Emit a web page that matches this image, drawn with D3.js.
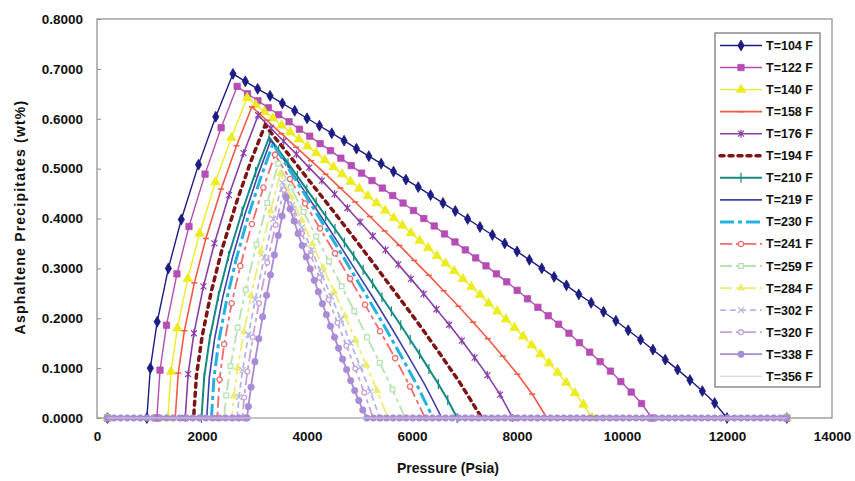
<!DOCTYPE html>
<html><head><meta charset="utf-8">
<script src="https://cdn.jsdelivr.net/npm/d3@7"></script>
<style>
body{margin:0;background:#fff}
text{font-family:"Liberation Sans",Arial,sans-serif;font-weight:bold;fill:#111}
</style>
</head><body>
<svg id="chart" width="855" height="481"></svg>
<script>
// ---------------- DATA ----------------
const pressureTicks = [0, 2000, 4000, 6000, 8000, 10000, 12000, 14000];
const wtTicks = [0, 0.1, 0.2, 0.3, 0.4, 0.5, 0.6, 0.7, 0.8];
const temps = ["T=104 F","T=122 F","T=140 F","T=158 F","T=176 F","T=194 F","T=210 F","T=219 F",
               "T=230 F","T=241 F","T=259 F","T=284 F","T=302 F","T=320 F","T=338 F","T=356 F"];

// [pressure psia, asphaltene wt%]
const s104 = [[200,0],[950,0],[1016,0.100],[1147,0.193],[1360,0.300],[1606,0.398],[1934,0.508],[2262,0.604],[2590,0.690],
  [2825,0.675],[3060,0.660],[3296,0.646],[3531,0.631],[3766,0.616],[4001,0.601],[4237,0.586],[4472,0.571],[4707,0.556],
  [4942,0.540],[5178,0.525],[5413,0.510],[5648,0.494],[5884,0.478],[6119,0.463],[6354,0.447],[6590,0.431],[6825,0.415],
  [7060,0.399],[7295,0.383],[7531,0.367],[7766,0.350],[8001,0.334],[8236,0.317],[8472,0.300],[8707,0.283],[8942,0.266],
  [9177,0.248],[9413,0.231],[9648,0.213],[9883,0.195],[10118,0.176],[10354,0.157],[10589,0.137],[10824,0.117],[11059,0.097],
  [11295,0.076],[11530,0.054],[11765,0.030],[12000,0],[13140,0]];
const s122 = [[200,0],[1140,0],[1201,0.096],[1324,0.186],[1523,0.289],[1752,0.384],[2058,0.489],[2364,0.582],[2670,0.665],
  [2868,0.650],[3065,0.636],[3263,0.622],[3460,0.608],[3658,0.594],[3855,0.579],[4053,0.565],[4250,0.550],[4448,0.536],
  [4645,0.521],[4843,0.506],[5040,0.491],[5238,0.476],[5435,0.461],[5633,0.446],[5830,0.431],[6028,0.416],[6225,0.400],
  [6423,0.385],[6620,0.369],[6818,0.353],[7015,0.337],[7213,0.321],[7410,0.305],[7608,0.289],[7805,0.273],[8003,0.256],
  [8200,0.239],[8398,0.222],[8595,0.205],[8793,0.188],[8990,0.170],[9188,0.151],[9385,0.132],[9583,0.113],[9780,0.094],
  [9978,0.073],[10175,0.052],[10373,0.029],[10570,0],[13140,0]];
const s140 = [[200,0],[1350,0],[1410,0.093],[1531,0.180],[1728,0.279],[1954,0.370],[2256,0.473],[2558,0.562],[2860,0.642],
  [3024,0.628],[3189,0.614],[3353,0.601],[3517,0.587],[3682,0.573],[3846,0.559],[4010,0.545],[4174,0.531],[4339,0.517],
  [4503,0.503],[4667,0.489],[4831,0.474],[4996,0.460],[5160,0.445],[5324,0.431],[5488,0.416],[5653,0.401],[5817,0.386],
  [5981,0.371],[6145,0.356],[6310,0.341],[6474,0.325],[6638,0.310],[6802,0.295],[6967,0.279],[7131,0.263],[7295,0.247],
  [7459,0.230],[7624,0.214],[7788,0.198],[7952,0.181],[8116,0.164],[8281,0.146],[8445,0.128],[8609,0.110],[8773,0.091],
  [8938,0.071],[9102,0.050],[9266,0.027],[9430,0],[13140,0]];
const s158 = [[200,0],[1490,0],[1548,0.090],[1665,0.175],[1855,0.271],[2074,0.360],[2366,0.459],[2658,0.546],[2950,0.624],
  [3231,0.597],[3512,0.570],[3793,0.543],[4074,0.516],[4355,0.489],[4636,0.461],[4917,0.433],[5198,0.404],[5479,0.375],
  [5760,0.346],[6041,0.316],[6322,0.286],[6603,0.255],[6884,0.224],[7165,0.192],[7446,0.159],[7727,0.124],[8008,0.088],
  [8289,0.048],[8570,0],[13140,0]];
const s176 = [[200,0],[1680,0],[1736,0.088],[1847,0.170],[2028,0.264],[2236,0.350],[2514,0.447],[2792,0.531],[3070,0.607],
  [3313,0.581],[3555,0.555],[3798,0.529],[4040,0.502],[4283,0.476],[4525,0.449],[4768,0.421],[5010,0.393],[5253,0.365],
  [5495,0.337],[5738,0.308],[5980,0.279],[6223,0.249],[6465,0.218],[6708,0.187],[6950,0.155],[7193,0.121],[7435,0.086],
  [7678,0.047],[7920,0],[13140,0]];
const s194 = [[200,0],[1840,0],[1894,0.085],[2003,0.164],[2180,0.255],[2384,0.339],[2656,0.432],[2928,0.514],[3200,0.587],
  [3613,0.533],[4026,0.478],[4439,0.423],[4852,0.367],[5265,0.310],[5678,0.252],[6091,0.194],[6504,0.133],[6917,0.070],
  [7330,0],[13140,0]];
const s210 = [[200,0],[1990,0],[2042,0.082],[2145,0.158],[2313,0.245],[2506,0.325],[2764,0.414],[3022,0.493],[3280,0.563],
  [3459,0.537],[3638,0.511],[3817,0.485],[3996,0.458],[4175,0.432],[4354,0.405],[4533,0.379],[4712,0.352],[4891,0.325],
  [5070,0.297],[5249,0.270],[5428,0.242],[5607,0.214],[5786,0.186],[5965,0.157],[6144,0.128],[6323,0.098],[6502,0.068],
  [6681,0.036],[6860,0],[13140,0]];
const s219 = [[200,0],[2090,0],[2139,0.081],[2236,0.156],[2395,0.242],[2578,0.321],[2822,0.410],[3066,0.487],[3310,0.557],
  [3636,0.506],[3962,0.453],[4288,0.401],[4614,0.348],[4940,0.294],[5266,0.240],[5592,0.184],[5918,0.126],[6244,0.067],
  [6570,0],[13140,0]];
const s230 = [[200,0],[2180,0],[2227,0.080],[2320,0.154],[2473,0.239],[2648,0.317],[2882,0.405],[3116,0.481],[3350,0.550],
  [3655,0.499],[3960,0.448],[4265,0.396],[4570,0.344],[4875,0.290],[5180,0.237],[5485,0.182],[5790,0.125],[6095,0.066],
  [6400,0],[13140,0]];
const s241 = [[200,0],[2290,0],[2334,0.077],[2422,0.148],[2565,0.230],[2730,0.305],[2950,0.389],[3170,0.462],[3390,0.528],
  [3676,0.479],[3962,0.430],[4248,0.380],[4534,0.330],[4820,0.279],[5106,0.227],[5392,0.174],[5678,0.120],[5964,0.063],
  [6250,0],[13140,0]];
const s259 = [[200,0],[2420,0],[2461,0.045],[2544,0.104],[2678,0.181],[2832,0.257],[3038,0.348],[3244,0.431],[3450,0.510],
  [3692,0.462],[3934,0.413],[4176,0.364],[4418,0.314],[4660,0.264],[4902,0.214],[5144,0.162],[5386,0.111],[5628,0.057],
  [5870,0],[13140,0]];
const s284 = [[200,0],[2570,0],[2607,0.044],[2680,0.100],[2800,0.173],[2938,0.246],[3122,0.334],[3306,0.415],[3490,0.490],
  [3695,0.443],[3900,0.396],[4105,0.349],[4310,0.301],[4515,0.254],[4720,0.205],[4925,0.156],[5130,0.106],[5335,0.055],
  [5540,0],[13140,0]];
const s302 = [[200,0],[2670,0],[2704,0.042],[2773,0.096],[2885,0.167],[3014,0.237],[3186,0.322],[3358,0.399],[3530,0.472],
  [3716,0.427],[3902,0.382],[4088,0.337],[4274,0.290],[4460,0.244],[4646,0.198],[4832,0.150],[5018,0.102],[5204,0.053],
  [5390,0],[13140,0]];
const s320 = [[200,0],[2770,0],[2802,0.041],[2865,0.093],[2968,0.162],[3086,0.230],[3244,0.312],[3402,0.387],[3560,0.457],
  [3730,0.414],[3900,0.370],[4070,0.326],[4240,0.281],[4410,0.237],[4580,0.191],[4750,0.145],[4920,0.099],[5090,0.051],
  [5260,0],[13140,0]];
const s338 = [[200,0],[325,0],[450,0],[575,0],[700,0],[825,0],[950,0],[1075,0],[1200,0],[1325,0],[1450,0],[1575,0],
  [1700,0],[1825,0],[1950,0],[2075,0],[2200,0],[2325,0],[2450,0],[2575,0],[2700,0],[2825,0],[2860,0],
  [2882,0.023],[2934,0.062],[3008,0.113],[3082,0.159],[3156,0.203],[3230,0.246],[3304,0.287],[3378,0.327],[3452,0.366],
  [3526,0.405],[3600,0.443],
  [3677,0.419],[3754,0.395],[3831,0.370],[3908,0.346],[3985,0.323],[4062,0.299],[4139,0.276],[4216,0.253],[4293,0.229],
  [4370,0.207],[4447,0.184],[4524,0.162],[4601,0.140],[4678,0.118],[4755,0.097],[4832,0.075],[4909,0.055],[4986,0.035],
  [5063,0.016],[5140,0],
  [5265,0],[5390,0],[5515,0],[5640,0],[5765,0],[5890,0],[6015,0],[6140,0],[6265,0],[6390,0],[6515,0],[6640,0],[6765,0],
  [6890,0],[7015,0],[7140,0],[7265,0],[7390,0],[7515,0],[7640,0],[7765,0],[7890,0],[8015,0],[8140,0],[8265,0],[8390,0],
  [8515,0],[8640,0],[8765,0],[8890,0],[9015,0],[9140,0],[9265,0],[9390,0],[9515,0],[9640,0],[9765,0],[9890,0],[10015,0],
  [10140,0],[10265,0],[10390,0],[10515,0],[10640,0],[10765,0],[10890,0],[11015,0],[11140,0],[11265,0],[11390,0],[11515,0],
  [11640,0],[11765,0],[11890,0],[12015,0],[12140,0],[12265,0],[12390,0],[12515,0],[12640,0],[12765,0],[12890,0],[13015,0],
  [13140,0]];
const s356 = [[200,0],[13140,0]];

const seriesData = [s104,s122,s140,s158,s176,s194,s210,s219,s230,s241,s259,s284,s302,s320,s338,s356];

// ---------------- STYLES ----------------
const styles = [
  {c:"#1c1c82", w:1.4, dash:null, m:"diamond", fill:true, ms:34},
  {c:"#b54db5", w:1.4, dash:null, m:"square", fill:true, ms:40},
  {c:"#ecec1e", w:1.4, dash:null, m:"triangle", fill:true, ms:38},
  {c:"#f25a45", w:1.6, dash:null, m:"dash", fill:true, ms:0},
  {c:"#8a3fa8", w:1.6, dash:null, m:"star", fill:true, ms:0},
  {c:"#7e1414", w:3.5, dash:"4,5", m:null},
  {c:"#148a80", w:2, dash:null, m:"vtick", fill:true, ms:0},
  {c:"#4141a6", w:1.6, dash:null, m:null},
  {c:"#23b3e0", w:3, dash:"14,4,4,4", m:null},
  {c:"#f26b6b", w:1.8, dash:"12,4,4,4", m:"circle", fill:false, ms:22},
  {c:"#b8e2b2", w:1.8, dash:"12,4,4,4", m:"square", fill:false, ms:22},
  {c:"#eded72", w:1.8, dash:"12,4,4,4", m:"triangle", fill:true, ms:22},
  {c:"#b3b6ea", w:1.8, dash:"6,4", m:"x", fill:true, ms:0},
  {c:"#c9a2d8", w:1.8, dash:"12,4,4,4", m:"circle", fill:false, ms:18},
  {c:"#a98bd6", w:1.8, dash:null, m:"circle", fill:true, ms:32},
  {c:"#d2d2d2", w:1.2, dash:null, m:null}
];

// ---------------- CHART ----------------
const svg = d3.select("#chart");
const x = d3.scaleLinear().domain([0, 14000]).range([97, 832]);
const y = d3.scaleLinear().domain([0, 0.8]).range([418, 19]);

svg.append("rect").attr("x", x(0)).attr("y", y(0.8))
  .attr("width", x(14000) - x(0)).attr("height", y(0) - y(0.8))
  .attr("fill", "#fff").attr("stroke", "#8a8a8a").attr("stroke-width", 1.2);

const yAxis = svg.append("g").attr("transform", `translate(${x(0)},0)`)
  .call(d3.axisLeft(y).tickValues(wtTicks).tickFormat(d3.format(".4f")).tickSize(-4).tickPadding(14));
yAxis.select(".domain").remove();
yAxis.selectAll("line").attr("stroke", "#8a8a8a");
yAxis.selectAll("text").attr("font-size", 13.5).attr("fill", "#111");

const xAxis = svg.append("g").attr("transform", `translate(0,${y(0)})`)
  .call(d3.axisBottom(x).tickValues(pressureTicks).tickFormat(d3.format("d")).tickSize(0).tickPadding(13));
xAxis.select(".domain").remove();
xAxis.selectAll("text").attr("font-size", 13.5).attr("fill", "#111");

svg.append("text").attr("x", 448).attr("y", 473).attr("text-anchor", "middle")
  .attr("font-size", 14).text("Pressure (Psia)");
svg.append("text").attr("transform", "translate(25,217) rotate(-90)").attr("text-anchor", "middle")
  .attr("font-size", 14).attr("letter-spacing", 1.2).text("Asphaltene Precipitates (wt%)");

function drawMarker(g, st, cx, cy) {
  const m = st.m;
  if (!m) return;
  if (m === "diamond" || m === "square" || m === "triangle" || m === "circle") {
    const type = {diamond: d3.symbolDiamond, square: d3.symbolSquare, triangle: d3.symbolTriangle, circle: d3.symbolCircle}[m];
    g.append("path").attr("d", d3.symbol().type(type).size(st.ms)())
      .attr("transform", `translate(${cx},${cy})`)
      .attr("fill", st.fill ? st.c : "#fff").attr("stroke", st.c).attr("stroke-width", st.fill ? 0.8 : 1.3);
  } else if (m === "dash") {
    g.append("line").attr("x1", cx - 3).attr("x2", cx + 3).attr("y1", cy).attr("y2", cy)
      .attr("stroke", st.c).attr("stroke-width", 1.5);
  } else if (m === "vtick") {
    g.append("line").attr("x1", cx).attr("x2", cx).attr("y1", cy - 5).attr("y2", cy + 5)
      .attr("stroke", st.c).attr("stroke-width", 1.2);
  } else if (m === "x" || m === "star") {
    const r = 3;
    g.append("path").attr("d", `M${cx-r},${cy-r}L${cx+r},${cy+r}M${cx-r},${cy+r}L${cx+r},${cy-r}` + (m === "star" ? `M${cx},${cy-r-1}L${cx},${cy+r+1}` : ""))
      .attr("stroke", st.c).attr("stroke-width", 1.2).attr("fill", "none");
  }
}

const line = d3.line().x(d => x(d[0])).y(d => y(d[1]));
const plot = svg.append("g");
seriesData.forEach((data, i) => {
  const st = styles[i];
  const g = plot.append("g");
  g.append("path").datum(data).attr("d", line).attr("fill", "none")
    .attr("stroke", st.c).attr("stroke-width", st.w)
    .attr("stroke-dasharray", st.dash).attr("stroke-linecap", st.dash && st.w > 3 ? "round" : "butt");
  if (st.m) data.forEach(d => drawMarker(g, st, x(d[0]), y(d[1])));
});

const lg = svg.append("g");
lg.append("rect").attr("x", 715).attr("y", 33).attr("width", 105).attr("height", 354)
  .attr("fill", "#fff").attr("stroke", "#555").attr("stroke-width", 1);
temps.forEach((t, i) => {
  const st = styles[i];
  const cy = 45.5 + i * 22.05;
  lg.append("line").attr("x1", 720).attr("x2", 762).attr("y1", cy).attr("y2", cy)
    .attr("stroke", st.c).attr("stroke-width", st.w).attr("stroke-dasharray", st.dash)
    .attr("stroke-linecap", st.dash && st.w > 3 ? "round" : "butt");
  drawMarker(lg, st, 741, cy);
  lg.append("text").attr("x", 766).attr("y", cy + 4.5).attr("font-size", 12.5).text(t);
});
</script>
</body></html>
